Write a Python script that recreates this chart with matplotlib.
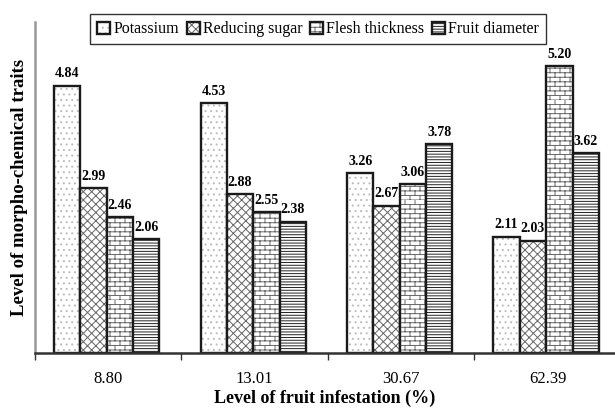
import warnings
import numpy as np
import matplotlib
matplotlib.use("Agg")
import matplotlib.pyplot as plt
import matplotlib.hatch as mhatch
from matplotlib.path import Path
from matplotlib.legend_handler import HandlerTuple

warnings.filterwarnings("ignore")

# data
infestation = ["8.80", "13.01", "30.67", "62.39"]
potassium = [4.84, 4.53, 3.26, 2.11]
reducing_sugar = [2.99, 2.88, 2.67, 2.03]
flesh_thickness = [2.46, 2.55, 3.06, 5.20]
fruit_diameter = [2.06, 2.38, 3.78, 3.62]

series = [potassium, reducing_sugar, flesh_thickness, fruit_diameter]
names = ["Potassium", "Reducing sugar", "Flesh thickness", "Fruit diameter"]


# brick pattern for flesh thickness (hatch char 'b')
class BrickHatch(mhatch.HatchPatternBase):
    def __init__(self, hatch, density):
        self.on = "b" in hatch
        self.rows = 22
        self.cols = 10
        if self.on:
            self.num_vertices = self.rows * 2 + self.rows * self.cols * 2
        else:
            self.num_vertices = 0

    def set_vertices_and_codes(self, vertices, codes):
        k = 0
        for i in range(self.rows):
            y0 = i / self.rows
            y1 = (i + 1) / self.rows
            vertices[k] = (0, y0)
            vertices[k + 1] = (1, y0)
            codes[k] = Path.MOVETO
            codes[k + 1] = Path.LINETO
            k += 2
            off = 0.5 * (i % 2)
            for j in range(self.cols):
                xx = (j + off) / self.cols
                vertices[k] = (xx, y0)
                vertices[k + 1] = (xx, y1)
                codes[k] = Path.MOVETO
                codes[k + 1] = Path.LINETO
                k += 2


mhatch._hatch_types.append(BrickHatch)

hatches = ["...", "xxxx", "b", "------"]
hatch_cols = ["#bbbbbb", "#666666", "#666666", "#222222"]

plt.rcParams["font.family"] = ["Liberation Serif", "DejaVu Serif"]
plt.rcParams["hatch.linewidth"] = 0.7

fig = plt.figure(figsize=(6.15, 4.08), dpi=100)
ax = fig.add_axes([35/615, 55/408, 580/615, 331/408])

x = np.arange(len(infestation))
w = 0.18
handles = []
for i, vals in enumerate(series):
    pos = x + (i - 1.5) * w - 0.01
    hb = ax.bar(pos, vals, w, color="white", edgecolor=hatch_cols[i],
                linewidth=0, hatch=hatches[i])
    eb = ax.bar(pos, vals, w, fill=False, edgecolor="#1a1a1a", linewidth=1.7)
    handles.append((hb[0], eb[0]))
    for p, v in zip(pos, vals):
        ax.text(p, v + 0.1, "%.2f" % v, ha="center", va="bottom",
                fontsize=10, fontweight="bold")

ax.set_xlim(-0.5, 3.46)
ax.set_ylim(0, 6)
ax.set_yticks([])
ax.set_xticks(x)
ax.set_xticklabels(infestation, fontsize=12)
ax.tick_params(axis="x", which="major", length=0, pad=13)
ax.set_xticks([-0.5, 0.5, 1.5, 2.5], minor=True)
ax.tick_params(axis="x", which="minor", length=5, width=1, color="#333333")

ax.spines["top"].set_visible(False)
ax.spines["right"].set_visible(False)
ax.spines["left"].set_color("#999999")
ax.spines["left"].set_linewidth(1.8)
ax.spines["bottom"].set_color("#333333")
ax.spines["bottom"].set_linewidth(1.8)

ax.set_xlabel("Level of fruit infestation (%)", fontsize=13, fontweight="bold", labelpad=2)
ax.set_ylabel("Level of morpho-chemical traits", fontsize=13.5, fontweight="bold", labelpad=5)

leg = fig.legend(handles, names, loc="upper left", bbox_to_anchor=(90/615, 1 - 14/408),
                 ncol=4, fontsize=11.5, frameon=True, fancybox=False, edgecolor="black",
                 handlelength=0.8, handleheight=0.8, handletextpad=0.2,
                 columnspacing=0.5, borderpad=0.45, borderaxespad=0,
                 handler_map={tuple: HandlerTuple(ndivide=1, pad=0)})
leg.get_frame().set_linewidth(1.0)

fig.savefig("out.png", dpi=100)
